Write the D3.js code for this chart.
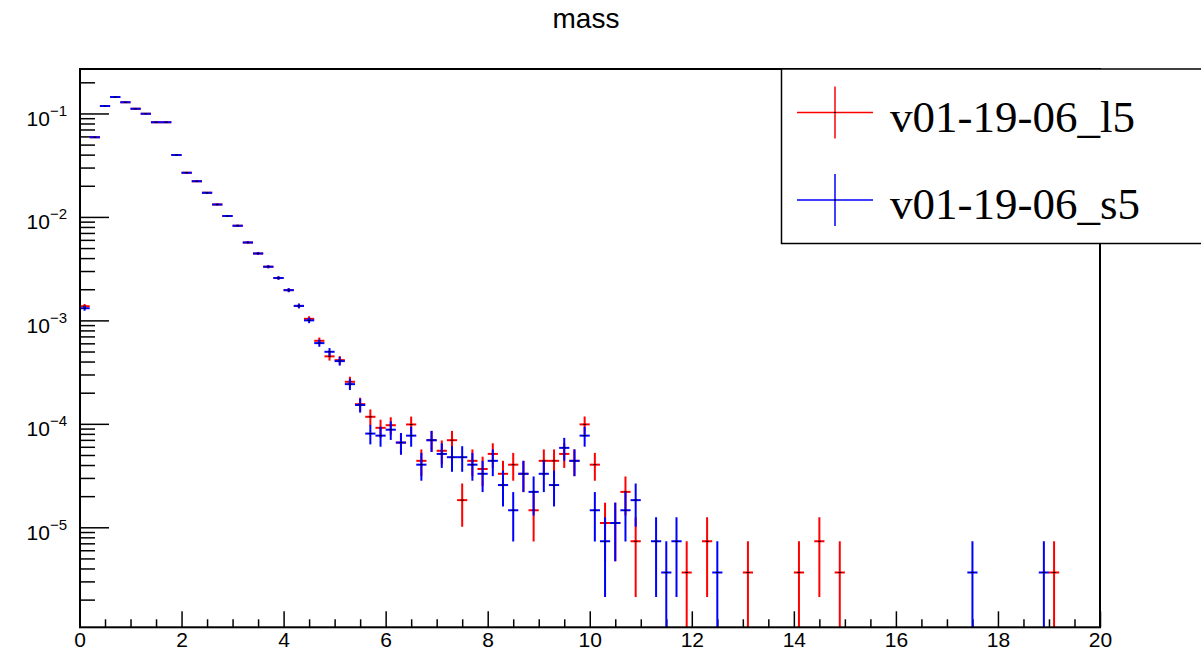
<!DOCTYPE html>
<html>
<head>
<meta charset="utf-8">
<script src="https://cdn.jsdelivr.net/npm/d3@7"></script>
<style>
  html, body { margin: 0; padding: 0; background: #fff; }
  svg { display: block; }
</style>
</head>
<body>
<div id="chart"></div>
<script>
// bin centres (bin width 0.2), only bins that hold an entry in either histogram
const binCenters = [
  0.1, 0.3, 0.5, 0.7, 0.9, 1.1, 1.3, 1.5, 1.7, 1.9,
  2.1, 2.3, 2.5, 2.7, 2.9, 3.1, 3.3, 3.5, 3.7, 3.9,
  4.1, 4.3, 4.5, 4.7, 4.9, 5.1, 5.3, 5.5, 5.7, 5.9,
  6.1, 6.3, 6.5, 6.7, 6.9, 7.1, 7.3, 7.5, 7.7, 7.9,
  8.1, 8.3, 8.5, 8.7, 8.9, 9.1, 9.3, 9.5, 9.7, 9.9,
  10.1, 10.3, 10.5, 10.7, 10.9,
  11.3, 11.5, 11.7, 11.9, 12.3, 12.5, 13.1, 14.1, 14.5, 14.9, 17.5, 18.9, 19.1
];

const redValues = [
  1.37e-3, 0.0589, 0.118, 0.144, 0.128, 0.111, 0.0996, 0.0822, 0.0822, 0.0397,
  0.0268, 0.0221, 0.0171, 0.0132, 0.0102, 0.00823, 0.00567, 0.00444, 0.0033, 0.00257,
  0.00196, 0.00138, 1.035e-3, 6.35e-4, 4.49e-4, 4.13e-4, 2.55e-4, 1.55e-4, 1.17e-4, 9.15e-5,
  9.7e-5, 6.59e-5, 9.86e-5, 4.39e-5, 6.95e-5, 5.49e-5, 6.95e-5, 1.83e-5, 4.39e-5, 3.66e-5,
  5.12e-5, 3.29e-5, 4.03e-5, 3.29e-5, 1.46e-5, 4.39e-5, 4.39e-5, 5.12e-5, 4.39e-5, 9.88e-5,
  4.03e-5, 1.10e-5, 1.10e-5, 2.20e-5, 7.32e-6,
  null, null, null, 3.66e-6, 7.32e-6, null, 3.66e-6, 3.66e-6, 7.32e-6, 3.66e-6, null, null, 3.66e-6
];
const redErrors = [
  7.1e-5, 4.64e-4, 6.57e-4, 7.26e-4, 6.84e-4, 6.37e-4, 6.04e-4, 5.49e-4, 5.49e-4, 3.81e-4,
  3.13e-4, 2.84e-4, 2.50e-4, 2.20e-4, 1.93e-4, 1.74e-4, 1.44e-4, 1.27e-4, 1.10e-4, 9.7e-5,
  8.5e-5, 7.1e-5, 6.2e-5, 4.8e-5, 4.05e-5, 3.9e-5, 3.05e-5, 2.38e-5, 2.07e-5, 1.83e-5,
  1.88e-5, 1.55e-5, 1.90e-5, 1.27e-5, 1.59e-5, 1.42e-5, 1.60e-5, 8.2e-6, 1.27e-5, 1.16e-5,
  1.37e-5, 1.10e-5, 1.21e-5, 1.10e-5, 7.3e-6, 1.27e-5, 1.27e-5, 1.37e-5, 1.27e-5, 1.90e-5,
  1.21e-5, 6.3e-6, 6.3e-6, 9.0e-6, 5.2e-6,
  null, null, null, 3.66e-6, 5.2e-6, null, 3.66e-6, 3.66e-6, 5.2e-6, 3.66e-6, null, null, 3.66e-6
];

const blueValues = [
  1.31e-3, 0.0589, 0.118, 0.144, 0.128, 0.111, 0.0996, 0.0822, 0.0822, 0.0397,
  0.0268, 0.0221, 0.0171, 0.0132, 0.0102, 0.00823, 0.00567, 0.00444, 0.0033, 0.00257,
  0.00196, 0.00138, 1.0e-3, 6.03e-4, 4.97e-4, 4.04e-4, 2.42e-4, 1.52e-4, 8.05e-5, 7.69e-5,
  8.78e-5, 6.59e-5, 7.69e-5, 4.03e-5, 6.95e-5, 5.12e-5, 4.76e-5, 4.76e-5, 4.03e-5, 3.29e-5,
  4.39e-5, 2.56e-5, 1.46e-5, 3.29e-5, 2.20e-5, 3.29e-5, 2.56e-5, 5.86e-5, 4.39e-5, 7.69e-5,
  1.46e-5, 7.32e-6, 1.10e-5, 1.46e-5, 1.83e-5,
  7.32e-6, 3.66e-6, 7.32e-6, null, null, 3.66e-6, null, null, null, null, 3.66e-6, 3.66e-6, null
];
const blueErrors = [
  7.0e-5, 4.64e-4, 6.57e-4, 7.26e-4, 6.84e-4, 6.37e-4, 6.04e-4, 5.49e-4, 5.49e-4, 3.81e-4,
  3.13e-4, 2.84e-4, 2.50e-4, 2.20e-4, 1.93e-4, 1.74e-4, 1.44e-4, 1.27e-4, 1.10e-4, 9.7e-5,
  8.5e-5, 7.1e-5, 6.05e-5, 4.7e-5, 4.26e-5, 3.85e-5, 2.98e-5, 2.36e-5, 1.72e-5, 1.68e-5,
  1.79e-5, 1.55e-5, 1.68e-5, 1.21e-5, 1.60e-5, 1.37e-5, 1.32e-5, 1.32e-5, 1.21e-5, 1.10e-5,
  1.27e-5, 9.7e-6, 7.3e-6, 1.10e-5, 9.0e-6, 1.10e-5, 9.7e-6, 1.46e-5, 1.27e-5, 1.68e-5,
  7.3e-6, 5.2e-6, 6.3e-6, 7.3e-6, 8.2e-6,
  5.2e-6, 3.66e-6, 5.2e-6, null, null, 3.66e-6, null, null, null, null, 3.66e-6, 3.66e-6, null
];

const seriesNames = ["v01-19-06_l5", "v01-19-06_s5"];
const seriesColors = ["#ff0000", "#0000ff"];
const xTickLabels = [0, 2, 4, 6, 8, 10, 12, 14, 16, 18, 20];
const yDecades = [-1, -2, -3, -4, -5];
const binWidth = 0.2;

const width = 1201, height = 656;
const frameLeft = 80, frameRight = 1100, frameTop = 69, frameBottom = 627.3;

const svg = d3.select("#chart")
    .append("svg")
    .attr("width", width)
    .attr("height", height);

const x = d3.scaleLinear().domain([0, 20]).range([79.5, frameRight]);
const y = d3.scaleLog().domain([1.08e-6, 0.269]).range([frameBottom, frameTop]);
const yMin = y.domain()[0];

svg.append("defs").append("clipPath")
    .attr("id", "plot-clip")
    .append("rect")
    .attr("x", frameLeft).attr("y", frameTop)
    .attr("width", frameRight - frameLeft).attr("height", frameBottom - frameTop);

// title
svg.append("text")
    .attr("x", 586)
    .attr("y", 28)
    .attr("text-anchor", "middle")
    .attr("font-family", "'Liberation Sans', Arial, Helvetica, sans-serif")
    .attr("font-size", "28px")
    .attr("fill", "#000")
    .text("mass");

// --- x axis (ticks point up into the frame) ---
const xAxis = d3.axisBottom(x)
    .tickValues(d3.range(0, 20.01, 0.5))
    .tickSize(-8)
    .tickPadding(5)
    .tickFormat(d => xTickLabels.includes(d) ? d : "");

const gx = svg.append("g")
    .attr("transform", `translate(0, ${frameBottom})`)
    .call(xAxis);
gx.select(".domain").remove();
gx.selectAll(".tick line")
    .attr("stroke", "#000")
    .attr("stroke-width", 1.5)
    .attr("y2", d => xTickLabels.includes(d) ? -16 : -8);
gx.selectAll(".tick text")
    .attr("font-family", "'Liberation Sans', Arial, Helvetica, sans-serif")
    .attr("font-size", "21px")
    .attr("fill", "#000");

// --- y axis (log, ticks point right) ---
const yTicks = y.ticks().filter(d => d >= yMin && d <= y.domain()[1]);
const isDecade = d => Math.abs(Math.log10(d) - Math.round(Math.log10(d))) < 1e-6;

const yAxis = d3.axisLeft(y)
    .tickValues(yTicks)
    .tickSize(-15)
    .tickFormat("");

const gy = svg.append("g")
    .attr("transform", `translate(${frameLeft}, 0)`)
    .call(yAxis);
gy.select(".domain").remove();
gy.selectAll(".tick line")
    .attr("stroke", "#000")
    .attr("stroke-width", 1.5)
    .attr("x2", d => isDecade(d) ? 29 : 15);

const yLabels = svg.append("g")
    .attr("font-family", "'Liberation Sans', Arial, Helvetica, sans-serif")
    .attr("fill", "#000");

yLabels.selectAll("text")
    .data(yDecades)
    .join("text")
    .attr("x", 67)
    .attr("y", d => y(Math.pow(10, d)) + 12.5)
    .attr("text-anchor", "end")
    .attr("font-size", "21px")
    .each(function(d) {
        const t = d3.select(this);
        t.append("tspan").text("10");
        t.append("tspan")
            .attr("dy", -10)
            .attr("font-size", "15px")
            .text("\u2212" + Math.abs(d));
    });

// --- histograms with error bars ---
const plot = svg.append("g").attr("clip-path", "url(#plot-clip)");

function drawHist(values, errors, color) {
    const pts = binCenters
        .map((c, i) => ({ c, v: values[i], e: errors[i] }))
        .filter(d => d.v != null);

    const g = plot.append("g");

    g.selectAll("line.hbar")
        .data(pts)
        .join("line")
        .attr("class", "hbar")
        .attr("x1", d => x(d.c - binWidth / 2))
        .attr("x2", d => x(d.c + binWidth / 2))
        .attr("y1", d => y(d.v))
        .attr("y2", d => y(d.v))
        .attr("stroke", color)
        .attr("stroke-width", 2);

    g.selectAll("line.vbar")
        .data(pts)
        .join("line")
        .attr("class", "vbar")
        .attr("x1", d => x(d.c))
        .attr("x2", d => x(d.c))
        .attr("y1", d => y(d.v + d.e))
        .attr("y2", d => (d.v - d.e) > yMin ? y(d.v - d.e) : frameBottom + 2)
        .attr("stroke", color)
        .attr("stroke-width", 2);

    // default ROOT marker: small black dot
    g.selectAll("rect.marker")
        .data(pts)
        .join("rect")
        .attr("class", "marker")
        .attr("x", d => x(d.c) - 1.5)
        .attr("y", d => y(d.v) - 0.5)
        .attr("width", 3)
        .attr("height", 1)
        .attr("fill", "#000");
}

drawHist(redValues, redErrors, seriesColors[0]);
drawHist(blueValues, blueErrors, seriesColors[1]);

// frame
svg.append("rect")
    .attr("x", frameLeft)
    .attr("y", frameTop)
    .attr("width", frameRight - frameLeft)
    .attr("height", frameBottom - frameTop)
    .attr("fill", "none")
    .attr("stroke", "#000")
    .attr("stroke-width", 2);

// --- legend (runs past the right edge of the canvas) ---
const legend = svg.append("g");
legend.append("rect")
    .attr("x", 781.5)
    .attr("y", frameTop)
    .attr("width", 440)
    .attr("height", 174.5)
    .attr("fill", "#fff")
    .attr("stroke", "#000")
    .attr("stroke-width", 1.5);

const legendRows = [112.5, 200];
seriesNames.forEach((name, i) => {
    const cy = legendRows[i];
    const row = legend.append("g");
    row.append("line")
        .attr("x1", 797).attr("x2", 873)
        .attr("y1", cy).attr("y2", cy)
        .attr("stroke", seriesColors[i]).attr("stroke-width", 1.5);
    row.append("line")
        .attr("x1", 835).attr("x2", 835)
        .attr("y1", cy - 26).attr("y2", cy + 26)
        .attr("stroke", seriesColors[i]).attr("stroke-width", 1.5);
    row.append("rect")
        .attr("x", 834).attr("y", cy - 0.5)
        .attr("width", 2).attr("height", 1)
        .attr("fill", "#000");
    row.append("text")
        .attr("x", 890)
        .attr("y", cy + 19)
        .attr("font-family", "'Liberation Serif', 'Times New Roman', Times, serif")
        .attr("font-size", "45px")
        .attr("fill", "#000")
        .text(name);
});
</script>
</body>
</html>
